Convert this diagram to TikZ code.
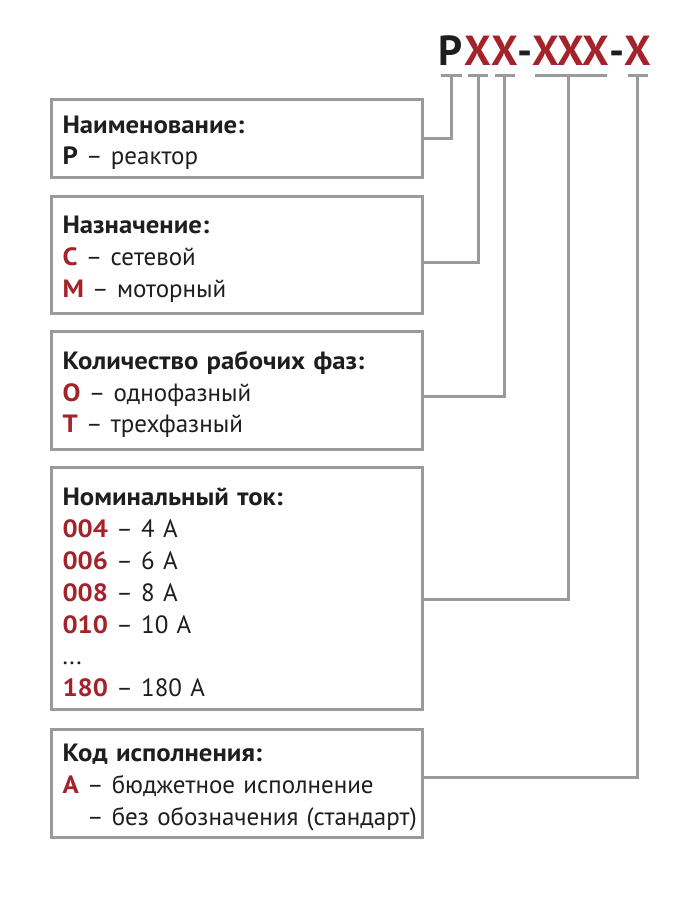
\documentclass[tikz,border=0pt]{standalone}
\usepackage{fontspec}
\setmainfont{PT Sans}[WordSpace=0.6, BoldFeatures={FakeStretch=1.07}]
\newfontfamily\codefont{PT Sans Bold}
\usepackage{xcolor}
\usepackage{tikz}
\usetikzlibrary{
    positioning,
    calc
}
\definecolor{codered}{HTML}{A4222A}
\definecolor{framegray}{HTML}{9A9A9B}
\definecolor{inkblack}{HTML}{1E1E1E}
\newcommand{\codeval}[1]{\textbf{\color{codered}#1}}
\tikzset{
  field/.style = {
      draw=framegray,
      line width=3pt,
      rectangle,
      fill=white,
      align=left,
      text width=349pt,
      minimum width=371pt,
      inner xsep=11pt,
      inner ysep=0pt,
      text=inkblack,
      font=\fontsize{25}{31.8}\selectfont,
      execute at begin node={\rule{0pt}{26pt}}
  },
  code/.style = {
      font=\fontsize{42}{42}\selectfont\codefont,
      anchor=base,
      inner xsep=0pt,
      inner ysep=10pt,
      outer sep=0pt,
      text depth=0pt,
      text=codered
  },
  sep/.style = {
      code,
      text=inkblack
  },
  link/.style = {
      draw=framegray,
      line width=3pt
  }
}

\begin{document}
\begin{tikzpicture}[x=1pt, y=-1pt]
    \useasboundingbox (0,0) rectangle (700,900);
    % Code
    \node[sep] (cP) at (451,65) {P};
    \node[code] (cX1) at (478,65) {X};
    \node[code] (cX2) at (505,65) {X};
    \node[sep] (dash1) at (525.5,65) {-};
    \node[code] (cX3) at (571,65) {XXX};
    \node[sep] (dash2) at (617,65) {-};
    \node[code] (cX4) at (637.5,65) {X};
    % Fields
    \node[field, minimum height=78pt, anchor=north west] (name) at (50,98)
        {\textbf{Наименование:}\\ \textbf{Р} – реактор};
    \node[field, minimum height=117pt, below=16pt of name] (purpose)
        {\textbf{Назначение:}\\ \codeval{С} – сетевой\\ \codeval{М} – моторный};
    \node[field, minimum height=118pt, below=15pt of purpose] (phases)
        {\textbf{Количество рабочих фаз:}\\ \codeval{О} – однофазный\\ \codeval{Т} – трехфазный};
    \node[field, minimum height=242pt, below=15pt of phases] (current)
        {\textbf{Номинальный ток:}\\ \codeval{004} – 4 А\\ \codeval{006} – 6 А\\
         \codeval{008} – 8 А\\ \codeval{010} – 10 А\\ ...\\ \codeval{180} – 180 А};
    \node[field, minimum height=108pt, below=17pt of current] (variant)
        {\textbf{Код исполнения:}\\ \codeval{А} – бюджетное исполнение\\
         \mbox{\hphantom{\codeval{А}} – без обозначения (стандарт)}};
    % Edges
    \path[link]
    ([xshift=-10.5pt]cP.south) -- ([xshift=10.5pt]cP.south)
    ([xshift=-10pt]cX1.south) -- ([xshift=10pt]cX1.south)
    ([xshift=-10pt]cX2.south) -- ([xshift=10pt]cX2.south)
    ([xshift=-36pt]cX3.south) -- ([xshift=36pt]cX3.south)
    ([xshift=-10pt]cX4.south) -- ([xshift=10pt]cX4.south);
    \path[link]
    (cP.south) |- (name.east)
    (cX1.south) |- ([yshift=-7pt]purpose.east)
    ([xshift=-1pt]cX2.south) |- ([yshift=-5.5pt]phases.east)
    ([xshift=-3pt]cX3.south) |- ([yshift=-10.5pt]current.east)
    (cX4.south) |- ([yshift=6.5pt]variant.east);
\end{tikzpicture}
\end{document}
